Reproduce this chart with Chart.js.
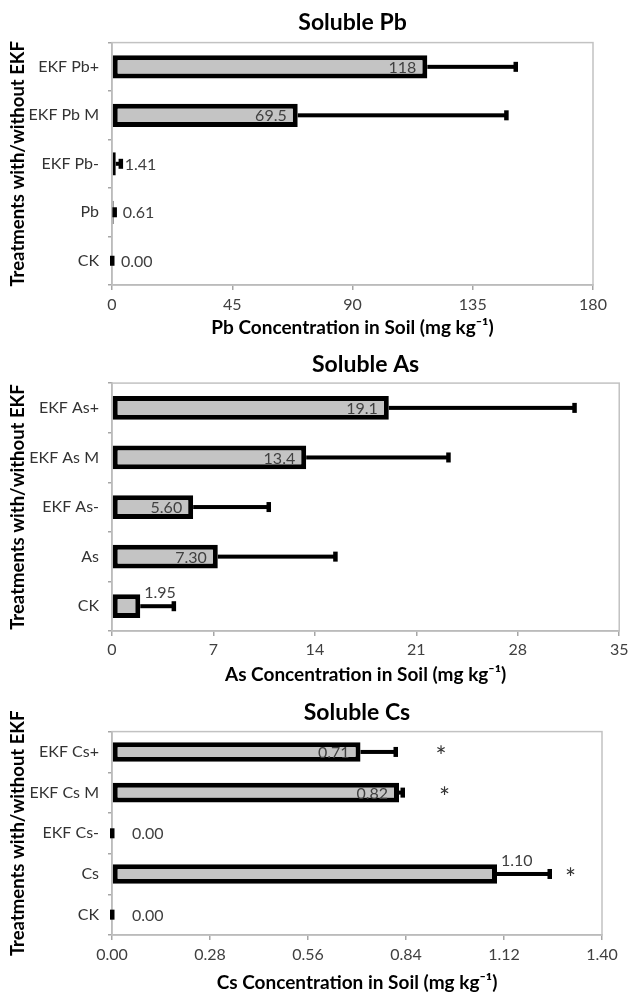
<!DOCTYPE html>
<html>
<head>
<meta charset="utf-8">
<script src="https://cdn.jsdelivr.net/npm/chart.js@4.4.1/dist/chart.umd.min.js"></script>
<style>
  html, body { margin: 0; padding: 0; background: #fff; }
  .panel { position: absolute; left: 0; width: 633px; }
</style>
</head>
<body>
<div class="panel" style="top:0;height:340px"><canvas id="pbChart"></canvas></div>
<div class="panel" style="top:340px;height:350px"><canvas id="asChart"></canvas></div>
<div class="panel" style="top:690px;height:305px"><canvas id="csChart"></canvas></div>
<script>
// Soluble Pb
const pbLabels = ['EKF Pb+', 'EKF Pb M', 'EKF Pb-', 'Pb', 'CK'];
const pbValues = [118, 69.5, 1.41, 0.61, 0];
const pbErrors = [33, 78, 1.8, 0.3, 0];
const pbTicks = [0, 45, 90, 135, 180];

// Soluble As
const asLabels = ['EKF As+', 'EKF As M', 'EKF As-', 'As', 'CK'];
const asValues = [19.1, 13.4, 5.60, 7.30, 1.95];
const asErrors = [12.8, 9.8, 5.2, 8.1, 2.3];
const asTicks = [0, 7, 14, 21, 28, 35];

// Soluble Cs
const csLabels = ['EKF Cs+', 'EKF Cs M', 'EKF Cs-', 'Cs', 'CK'];
const csValues = [0.71, 0.82, 0, 1.10, 0];
const csErrors = [0.10, 0.01, 0, 0.15, 0];
const csTicks = [0, 0.28, 0.56, 0.84, 1.12, 1.40];
const csSignif = [true, true, false, true, false];

Chart.defaults.font.family = 'Lato, "Open Sans", sans-serif';
Chart.defaults.color = '#404040';

function fmt(v) {
    return v >= 100 ? v.toFixed(0) : v >= 10 ? v.toFixed(1) : v.toFixed(2);
}

// plot frame, error bars, value labels and asterisks (Excel look)
const barDecor = {
    id: 'barDecor',
    beforeDatasetsDraw(chart) {
        const { ctx, chartArea: a } = chart;
        ctx.save();
        ctx.strokeStyle = '#c2c2c2';
        ctx.lineWidth = 1.5;
        ctx.strokeRect(a.left, a.top, a.right - a.left, a.bottom - a.top);
        ctx.restore();
    },
    afterDatasetsDraw(chart, args, o) {
        const ctx = chart.ctx;
        const xs = chart.scales.x;
        const bars = chart.getDatasetMeta(0).data;
        const vals = chart.data.datasets[0].data;
        ctx.save();
        ctx.fillStyle = '#000';
        bars.forEach((bar, i) => {
            const x0 = xs.getPixelForValue(vals[i]);
            const x1 = xs.getPixelForValue(vals[i] + o.errors[i]);
            ctx.fillRect(x0, bar.y - 2, x1 - x0, 4);
            ctx.fillRect(x1 - 2, bar.y - 5, 4.5, 10);
        });
        ctx.font = '16px Lato';
        ctx.fillStyle = '#404040';
        ctx.textBaseline = 'middle';
        bars.forEach((bar, i) => {
            const x0 = xs.getPixelForValue(vals[i]);
            const text = fmt(vals[i]);
            const where = o.labelAt[i];
            if (where === 'in') {
                ctx.textAlign = 'right';
                ctx.fillText(text, x0 - 11, bar.y + 1);
            } else if (where === 'top') {
                ctx.textAlign = 'left';
                ctx.fillText(text, x0 + 4, bar.y - 13);
            } else {
                ctx.textAlign = 'left';
                ctx.fillText(text, x0 + o.outGap, bar.y + 1);
            }
        });
        if (o.stars) {
            ctx.font = '26px Lato';
            ctx.fillStyle = '#333';
            ctx.textAlign = 'center';
            o.stars.forEach((s, i) => {
                if (s == null) return;
                ctx.fillText('*', xs.getPixelForValue(s), bars[i].y + 6);
            });
        }
        ctx.restore();
    }
};

function makePanel(id, labels, values, ticks, p) {
    return new Chart(document.getElementById(id), {
        type: 'bar',
        data: {
            labels: labels,
            datasets: [{
                data: values,
                backgroundColor: '#c4c4c4',
                borderColor: '#000',
                borderWidth: 5,
                borderSkipped: false,
                barPercentage: 0.48,
                categoryPercentage: 1
            }]
        },
        options: {
            indexAxis: 'y',
            responsive: true,
            maintainAspectRatio: false,
            animation: false,
            layout: { padding: { left: 0, right: p.right, top: 0, bottom: 0 } },
            plugins: {
                legend: { display: false },
                tooltip: { enabled: false },
                title: {
                    display: true,
                    text: p.title,
                    fullSize: false,
                    color: '#000',
                    font: { size: 23, weight: 'bold' },
                    padding: { top: p.titleTop, bottom: p.titleBottom }
                },
                barDecor: {
                    errors: p.errors,
                    labelAt: p.labelAt,
                    outGap: p.outGap,
                    stars: p.stars
                }
            },
            scales: {
                x: {
                    min: ticks[0],
                    max: ticks[ticks.length - 1],
                    afterBuildTicks: s => { s.ticks = ticks.map(v => ({ value: v })); },
                    afterFit: s => { s.height = p.bottomH; },
                    grid: { drawOnChartArea: false, tickLength: 5, color: '#a6a6a6', lineWidth: 1.5 },
                    border: { color: '#a6a6a6', width: 1.5 },
                    ticks: {
                        padding: p.tickPad,
                        font: { size: 16 },
                        color: '#404040',
                        maxRotation: 0,
                        callback: v => p.tickFmt(v)
                    },
                    title: {
                        display: true,
                        text: p.xTitle,
                        color: '#000',
                        font: { size: 19, weight: 'bold' },
                        padding: { top: 0, bottom: p.xTitleBottom }
                    }
                },
                y: {
                    afterFit: s => { s.width = 112; },
                    grid: { drawOnChartArea: false, tickLength: 4, color: '#a6a6a6', lineWidth: 1.5, offset: true },
                    border: { color: '#a6a6a6', width: 1.5 },
                    ticks: { padding: 9, font: { size: 16 }, color: '#333' },
                    title: {
                        display: true,
                        text: 'Treatments with/without EKF',
                        color: '#000',
                        font: { size: 18.5, weight: 'bold' },
                        padding: { top: 7, bottom: 0 }
                    }
                }
            }
        },
        plugins: [barDecor]
    });
}

makePanel('pbChart', pbLabels, pbValues, pbTicks, {
    title: 'Soluble Pb',
    xTitle: 'Pb Concentration in Soil (mg kg\u207B\u00B9)',
    errors: pbErrors,
    labelAt: ['in', 'in', 'out', 'out', 'out'],
    outGap: 9,
    right: 40, titleTop: 9, titleBottom: 6, bottomH: 55, tickPad: 5.5, xTitleBottom: 0.5,
    tickFmt: v => String(v)
});

makePanel('asChart', asLabels, asValues, asTicks, {
    title: 'Soluble As',
    xTitle: 'As Concentration in Soil (mg kg\u207B\u00B9)',
    errors: asErrors,
    labelAt: ['in', 'in', 'in', 'in', 'top'],
    outGap: 9,
    right: 10, titleTop: 10.5, titleBottom: 5, bottomH: 59, tickPad: 4.5, xTitleBottom: 3.5,
    tickFmt: v => String(v)
});

makePanel('csChart', csLabels, csValues, csTicks, {
    title: 'Soluble Cs',
    xTitle: 'Cs Concentration in Soil (mg kg\u207B\u00B9)',
    errors: csErrors,
    labelAt: ['in', 'in', 'out', 'top', 'out'],
    outGap: 20,
    stars: [0.94, 0.95, null, 1.31, null].map((s, i) => csSignif[i] ? s : null),
    right: 31, titleTop: 9, titleBottom: 5, bottomH: 60, tickPad: 5.5, xTitleBottom: 0.5,
    tickFmt: v => v.toFixed(2)
});
</script>
</body>
</html>
